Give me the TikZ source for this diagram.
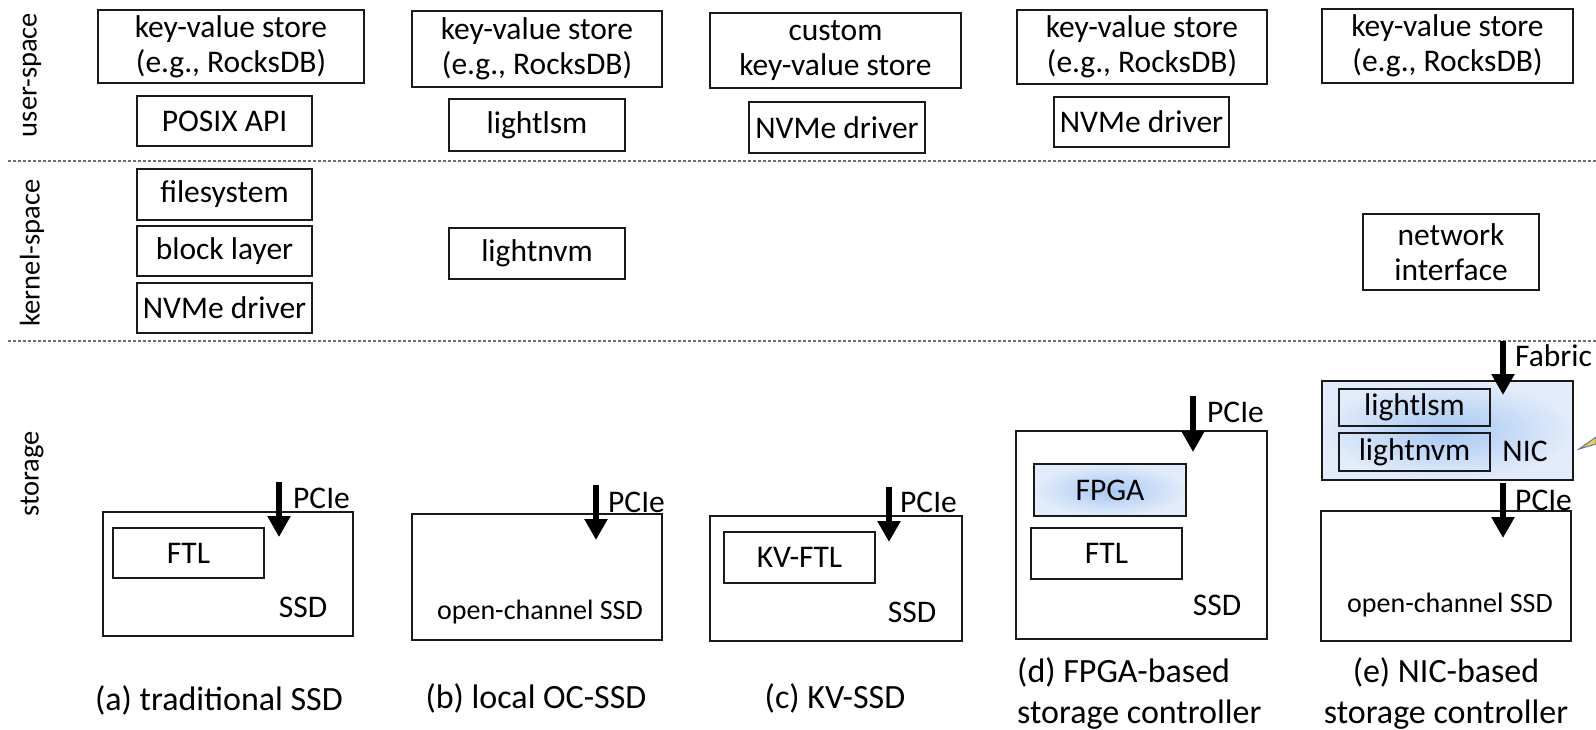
\documentclass[tikz,border=0pt]{standalone}
\usepackage{fontspec}
\setmainfont{Carlito}
\usetikzlibrary{arrows.meta}

\definecolor{edge}{HTML}{1A1A1A}
\definecolor{chipin}{HTML}{A7C8F3}
\definecolor{chipout}{HTML}{E2ECFA}
\definecolor{sepgray}{HTML}{707070}
\definecolor{tailfill}{HTML}{F2C94C}
\definecolor{tailedge}{HTML}{5A7DB0}

\tikzset{
  layer/.style={draw=edge, line width=1.8pt, inner sep=0pt, align=center,
                font=\fontsize{31.5}{35}\selectfont},
  chip/.style={layer, inner color=chipin, outer color=chipout},
  tag/.style={inner sep=0pt, font=\fontsize{31.5}{35}\selectfont},
  midtag/.style={inner sep=0pt, font=\fontsize{28}{32}\selectfont},
  sidelabel/.style={inner sep=0pt, rotate=90, font=\fontsize{28.5}{32}\selectfont},
  caption/.style={inner sep=0pt, font=\fontsize{34}{41}\selectfont},
  sepline/.style={draw=sepgray, line width=1.3pt, dash pattern=on 3pt off 2pt},
  bus/.style={draw=black, line width=6pt, -{Triangle[width=22pt,length=21pt]}}
}

\begin{document}
\begin{tikzpicture}[x=1pt, y=-1pt]
\useasboundingbox (0,0) rectangle (1596,729);

% privilege boundaries
\draw[sepline] (8,161) -- (1596,161);
\draw[sepline] (8,341) -- (1596,341);

\node[sidelabel] (lbl-user)   at (32,75)  {user-space};
\node[sidelabel] (lbl-kernel) at (32,253) {kernel-space};
\node[sidelabel] (lbl-stor)   at (32,474) {storage};

% ---------- (a) traditional SSD ----------
\node[layer, minimum width=266pt, minimum height=73pt] (a-kv) at (231,46.5) {key-value store\\(e.g., RocksDB)};
\node[layer, minimum width=175pt, minimum height=50pt] (a-posix) at (224.5,121) {POSIX API};
\node[layer, minimum width=175pt, minimum height=51pt] (a-fs) at (224.5,194.5) {filesystem};
\node[layer, minimum width=175pt, minimum height=50pt] (a-blk) at (224.5,251) {block layer};
\node[layer, minimum width=175pt, minimum height=50pt] (a-nvme) at (224.5,308) {NVMe driver};
\node[layer, minimum width=250pt, minimum height=124pt] (a-ssd) at (228,574) {};
\node[layer, minimum width=151pt, minimum height=50pt] (a-ftl) at (188.5,553) {FTL};
\node[tag] (a-ssdlbl) at (303,607) {SSD};
\coordinate (a-in) at (279,482);
\coordinate (a-tip) at (279,537);
\draw[bus] (a-in) -- (a-tip);
\node[tag, anchor=west] (a-pcie) at (293,498) {PCIe};
\node[caption] (a-cap) at (219,700) {(a) traditional SSD};

% ---------- (b) local OC-SSD ----------
\node[layer, minimum width=250pt, minimum height=76pt] (b-kv) at (537,49) {key-value store\\(e.g., RocksDB)};
\node[layer, minimum width=176pt, minimum height=52pt] (b-lsm) at (537,125) {lightlsm};
\node[layer, minimum width=176pt, minimum height=51pt] (b-nvm) at (537,253.5) {lightnvm};
\node[layer, minimum width=250pt, minimum height=126pt] (b-ssd) at (537,577) {};
\node[midtag] (b-ssdlbl) at (540,612) {open-channel SSD};
\coordinate (b-in) at (596,485);
\coordinate (b-tip) at (596,540);
\draw[bus] (b-in) -- (b-tip);
\node[tag, anchor=west] (b-pcie) at (608,502) {PCIe};
\node[caption] (b-cap) at (536,698) {(b) local OC-SSD};

% ---------- (c) KV-SSD ----------
\node[layer, minimum width=251pt, minimum height=75pt] (c-kv) at (835.5,50.5) {custom\\key-value store};
\node[layer, minimum width=176pt, minimum height=51pt] (c-nvme) at (837,127.5) {NVMe driver};
\node[layer, minimum width=252pt, minimum height=125pt] (c-ssd) at (836,578.5) {};
\node[layer, minimum width=151pt, minimum height=51pt] (c-ftl) at (799.5,557.5) {KV-FTL};
\node[tag] (c-ssdlbl) at (912,612) {SSD};
\coordinate (c-in) at (889,487);
\coordinate (c-tip) at (889,542);
\draw[bus] (c-in) -- (c-tip);
\node[tag, anchor=west] (c-pcie) at (900,502) {PCIe};
\node[caption] (c-cap) at (835,698) {(c) KV-SSD};

% ---------- (d) FPGA-based storage controller ----------
\node[layer, minimum width=250pt, minimum height=74pt] (d-kv) at (1142,47) {key-value store\\(e.g., RocksDB)};
\node[layer, minimum width=175pt, minimum height=50pt] (d-nvme) at (1141.5,122) {NVMe driver};
\node[layer, minimum width=251pt, minimum height=208pt] (d-ssd) at (1141.5,535) {};
\node[chip, minimum width=152pt, minimum height=52pt] (d-fpga) at (1110,490) {FPGA};
\node[layer, minimum width=151pt, minimum height=51pt] (d-ftl) at (1106.5,553.5) {FTL};
\node[tag] (d-ssdlbl) at (1217,605) {SSD};
\coordinate (d-in) at (1193,396);
\coordinate (d-tip) at (1193,452);
\draw[bus] (d-in) -- (d-tip);
\node[tag, anchor=west] (d-pcie) at (1207,412) {PCIe};
\node[caption, align=left, anchor=west] (d-cap) at (1017,693) {(d) FPGA-based\\storage controller};

% ---------- (e) NIC-based storage controller ----------
\node[layer, minimum width=251pt, minimum height=74pt] (e-kv) at (1447.5,46) {key-value store\\(e.g., RocksDB)};
\node[layer, minimum width=176pt, minimum height=76pt] (e-netif) at (1451,252) {network\\interface};
\node[chip, minimum width=251pt, minimum height=99pt] (e-nic) at (1447.5,430.5) {};
\node[layer, minimum width=151pt, minimum height=37pt] (e-lsm) at (1414.5,407.5) {lightlsm};
\node[layer, minimum width=151pt, minimum height=38pt] (e-nvm) at (1414.5,452) {lightnvm};
\node[tag] (e-niclbl) at (1525,451) {NIC};
\coordinate (e-fab-in) at (1503,341);
\coordinate (e-fab-tip) at (1503,395);
\draw[bus] (e-fab-in) -- (e-fab-tip);
\node[tag, anchor=west] (e-fabric) at (1515,356) {Fabric};
\node[layer, minimum width=250pt, minimum height=130pt] (e-ssd) at (1446,576) {};
\node[midtag] (e-ssdlbl) at (1450,605) {open-channel SSD};
\coordinate (e-in) at (1503,483);
\coordinate (e-tip) at (1503,538);
\draw[bus] (e-in) -- (e-tip);
\node[tag, anchor=west] (e-pcie) at (1515,500) {PCIe};
\node[caption, align=center] (e-cap) at (1446,693) {(e) NIC-based\\storage controller};

% callout tail entering from the right edge
\filldraw[fill=tailfill, draw=tailedge, line width=1pt] (1579,449) -- (1596,437) -- (1596,444) -- cycle;

\end{tikzpicture}
\end{document}
